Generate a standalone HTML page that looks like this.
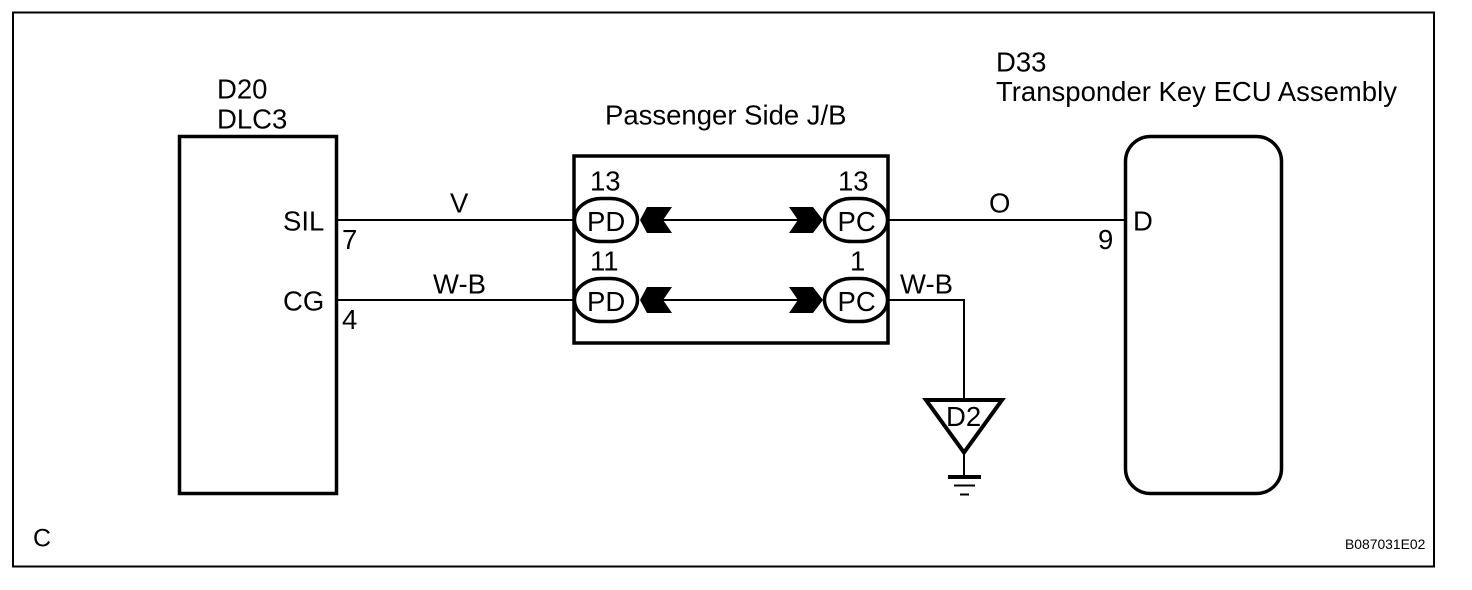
<!DOCTYPE html>
<html>
<head>
<meta charset="utf-8">
<style>
html,body{margin:0;padding:0;background:#fff;width:1472px;height:590px;overflow:hidden}
svg{display:block}
text{font-family:"Liberation Sans",Arial,sans-serif;font-size:27.5px;fill:#000}
</style>
</head>
<body>
<svg width="1472" height="590" viewBox="0 0 1472 590" xmlns="http://www.w3.org/2000/svg">
<rect x="13" y="12.500" width="1421" height="554" fill="none" stroke="#000" stroke-width="2"/>
<rect x="179.500" y="136.500" width="157" height="357" fill="none" stroke="#000" stroke-width="3.500"/>
<rect x="1125.500" y="136.500" width="156" height="357" rx="25" ry="25" fill="none" stroke="#000" stroke-width="3.500"/>
<rect x="574" y="156" width="314" height="187" fill="none" stroke="#000" stroke-width="3.500"/>
<g stroke="#000" stroke-width="2" fill="none">
<path d="M337 220H574M337 300H574M888 220H1125M888 300H964V398M964 454V477"/>
<path d="M663 220H798M663 300H798"/>
<path d="M954 485.500H975"/>
<path d="M960 494.500H969"/>
</g>
<g fill="#fff" stroke="#000" stroke-width="3.500">
<rect x="574.500" y="198.500" width="63" height="43" rx="27" ry="21.500"/>
<rect x="824.500" y="198.500" width="63" height="43" rx="27" ry="21.500"/>
<rect x="574.500" y="278.500" width="63" height="43" rx="27" ry="21.500"/>
<rect x="824.500" y="278.500" width="63" height="43" rx="27" ry="21.500"/>
</g>
<g fill="#000">
<path d="M640 220L647 207H672L663 220L672 233H647Z"/>
<path d="M640 300L647 287H672L663 300L672 313H647Z"/>
<path d="M823 220L813 207H789L798 220L789 233H813Z"/>
<path d="M823 300L813 287H789L798 300L789 313H813Z"/>
<rect x="948" y="475" width="33" height="4"/>
</g>
<path d="M926 400H1002L964 452.500Z" fill="#fff" stroke="#000" stroke-width="4"/>
<text x="217" y="98.500">D20</text>
<text x="217" y="128.500">DLC3</text>
<text x="605" y="124.500">Passenger Side J/B</text>
<text x="996" y="71.500">D33</text>
<text x="996" y="101">Transponder Key ECU Assembly</text>
<text x="283" y="230.500">SIL</text>
<text x="283" y="310.500">CG</text>
<text x="342" y="249">7</text>
<text x="342" y="329">4</text>
<text x="450" y="212.500">V</text>
<text x="433" y="293.500">W-B</text>
<text x="590" y="190.500">13</text>
<text x="590" y="270.500">11</text>
<text x="838" y="190.500">13</text>
<text x="850" y="270.500">1</text>
<text x="587" y="231">PD</text>
<text x="587" y="311">PD</text>
<text x="837.500" y="231">PC</text>
<text x="837.500" y="311">PC</text>
<text x="989" y="212.500">O</text>
<text x="900" y="293.500">W-B</text>
<text x="1098" y="249">9</text>
<text x="1133" y="230.500">D</text>
<text x="946" y="426">D2</text>
<text x="33" y="546.500" style="font-size:25px">C</text>
<text x="1345" y="549" style="font-size:13.900px">B087031E02</text>
</svg>
</body>
</html>
